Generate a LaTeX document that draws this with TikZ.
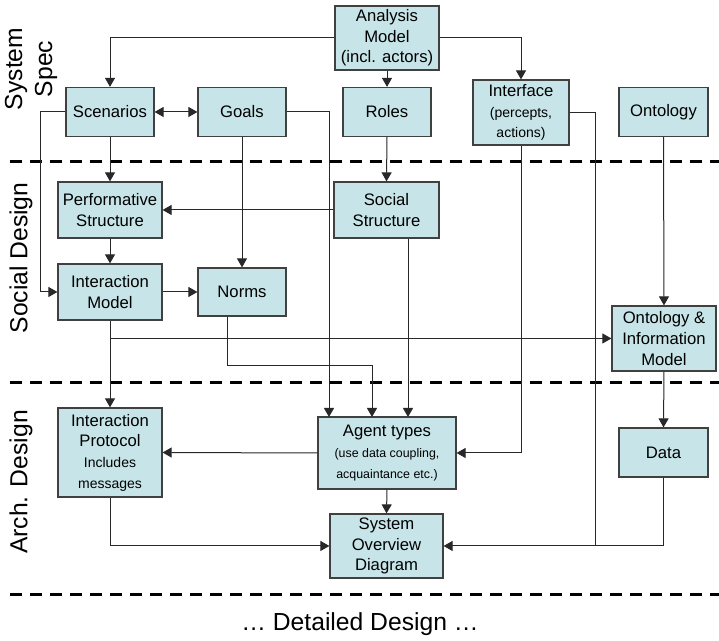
\documentclass[tikz,border=0pt]{standalone}
\usepackage{fontspec}
\setmainfont{Liberation Sans}
\usetikzlibrary{arrows.meta}
\definecolor{boxfill}{RGB}{199,229,232}
\definecolor{boxline}{RGB}{64,64,64}
\definecolor{conline}{RGB}{40,40,40}
\newcommand{\subtxt}{\fontsize{10.5}{12.5}\selectfont}
\newcommand{\subtiny}{\fontsize{9.3}{11}\selectfont}
\begin{document}
\begin{tikzpicture}[x=0.75pt,y=0.75pt,yscale=-1,xscale=1,
  box/.style={draw=boxline,fill=boxfill,line width=0.9pt,align=center,inner sep=1pt,
    font=\fontsize{12.5}{15.5}\selectfont},
  con/.style={draw=conline,line width=0.75pt},
  arr/.style={con,-{Triangle[length=6.75pt,width=7.5pt]}},
  sep/.style={line width=2.25pt,dash pattern={on 9pt off 6pt}},
  lbl/.style={font=\fontsize{18.5}{22.5}\selectfont,align=center}]
\useasboundingbox (0,0) rectangle (719,641);

%Straight Lines
\draw [sep] (10,162) -- (719,162) ;
\draw [sep] (10,383) -- (719,383) ;
\draw [sep] (10,595) -- (719,595) ;

%Shape: Rectangle
\node [box,minimum width=78pt,minimum height=48pt] (ana) at (387,38) {Analysis\\Model\\(incl. actors)};
\node [box,minimum width=66pt,minimum height=36.75pt] (scen) at (110,112) {Scenarios};
\node [box,minimum width=66pt,minimum height=36.75pt] (goals) at (242,112) {Goals};
\node [box,minimum width=66pt,minimum height=36.75pt] (roles) at (387,112) {Roles};
\node [box,minimum width=72pt,minimum height=48.75pt] (iface) at (521,112.5) {Interface\\{\subtxt(percepts,}\\{\subtxt actions)}};
\node [box,minimum width=66.75pt,minimum height=36.75pt] (onto) at (663.5,112) {Ontology};
\node [box,minimum width=78pt,minimum height=42pt] (perf) at (110,210) {Performative\\Structure};
\node [box,minimum width=78.75pt,minimum height=42pt] (soc) at (386.5,210) {Social\\Structure};
\node [box,minimum width=78pt,minimum height=42pt] (imod) at (110,292) {Interaction\\Model};
\node [box,minimum width=66pt,minimum height=36pt] (norms) at (242,292) {Norms};
\node [box,minimum width=78pt,minimum height=48.75pt] (oim) at (664,338.5) {Ontology \&\\Information\\Model};
\node [box,minimum width=78pt,minimum height=66.75pt] (iprot) at (110,452.5) {Interaction\\Protocol\\{\subtxt Includes}\\{\subtxt messages}};
\node [box,minimum width=103.5pt,minimum height=54pt] (agent) at (387,453) {Agent types\\{\subtiny(use data coupling,}\\{\subtiny acquaintance etc.)}};
\node [box,minimum width=66.75pt,minimum height=36.75pt] (data) at (663.5,452.5) {Data};
\node [box,minimum width=84.75pt,minimum height=48pt] (sod) at (386.5,546) {System\\Overview\\Diagram};

%Joints
\coordinate (sl) at (40,292);
\coordinate (ag1) at (329,417);
\coordinate (ag2) at (372,417);
\coordinate (ag3) at (408,417);
\coordinate (nb) at (227,366);
\coordinate (rj) at (595,546);

%Straight Lines
\draw [arr] (ana.west) -| (scen.north) ;
\draw [arr] (ana.south) -- (roles.north) ;
\draw [arr] (ana.east) -| (iface.north) ;
\draw [arr,{Triangle[length=6.75pt,width=7.5pt]}-{Triangle[length=6.75pt,width=7.5pt]}] (scen.east) -- (goals.west) ;
\draw [arr] (scen.south) -- (perf.north) ;
\draw [arr] (scen.west) -| (sl) -- (imod.west) ;
\draw [arr] (goals.south) -- (norms.north) ;
\draw [arr] (goals.east) -| (ag1) ;
\draw [arr] (roles.south) -- (soc.north) ;
\draw [arr] (soc.west) -- (perf.east) ;
\draw [arr] (soc.south -| ag3) -- (ag3) ;
\draw [arr] (perf.south) -- (imod.north) ;
\draw [arr] (imod.east) -- (norms.west) ;
\draw [arr] (imod.south) -- (iprot.north) ;
\draw [arr] (imod.south |- oim.west) -- (oim.west) ;
\draw [arr] (norms.south -| nb) -- (nb) -| (ag2) ;
\draw [arr] (iface.south) |- (agent.east) ;
\draw [arr] (iface.east) -| (rj) -- (sod.east) ;
\draw [arr] (onto.south) -- (oim.north) ;
\draw [arr] (oim.south) -- (data.north) ;
\draw [con] (data.south) |- (rj) ;
\draw [arr] (agent.west) -- (iprot.east) ;
\draw [arr] (agent.south) -- (sod.north) ;
\draw [arr] (iprot.south) |- (sod.west) ;

% Text Node
\node [lbl,rotate=90] (lspec) at (31,69) {System\\Spec};
% Text Node
\node [lbl,rotate=90] (lsoc) at (21,258) {Social Design};
% Text Node
\node [lbl,rotate=90] (larch) at (21,482) {Arch. Design};
% Text Node
\node [lbl] (ldet) at (360,624) {… Detailed Design …};

\end{tikzpicture}
\end{document}
